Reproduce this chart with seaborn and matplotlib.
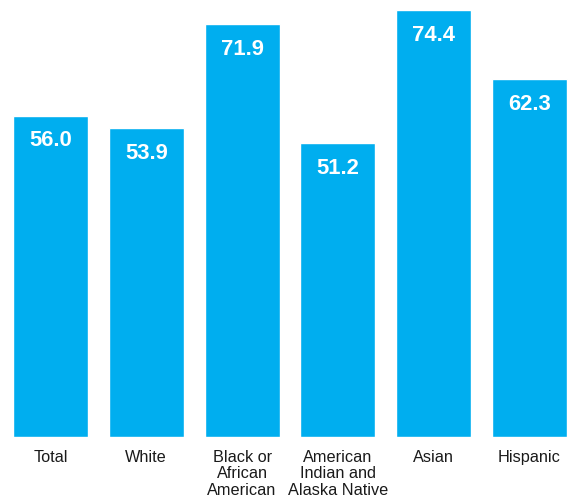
import matplotlib
matplotlib.use("Agg")
import matplotlib.pyplot as plt
import seaborn as sns
import pandas as pd

categories = ["Total", "White", "Black or\nAfrican\nAmerican",
              "American\nIndian and\nAlaska Native", "Asian", "Hispanic"]
values = [56.0, 53.9, 71.9, 51.2, 74.4, 62.3]
value_labels = ["56.0", "53.9", "71.9", "51.2", "74.4", "62.3"]

sns.set_style("white")
plt.rcParams["font.family"] = ["Liberation Sans", "DejaVu Sans"]

df = pd.DataFrame({"cat": categories, "val": values})

fig = plt.figure(figsize=(5.72, 5.04), dpi=100)
ax = fig.add_axes([0, 0.1335, 1, 0.8665])
sns.barplot(data=df, x="cat", y="val", color="#00AEEF", saturation=1,
            width=0.783, ax=ax, errorbar=None)

ax.set_xlim(-0.527, 5.444)
ax.set_ylim(0, 76.15)
ax.set_xlabel("")
ax.set_ylabel("")
ax.set_yticks([])
for s in ax.spines.values():
    s.set_visible(False)
ax.tick_params(axis="x", length=0, pad=9.5, labelsize=11.7, labelcolor="#1a1a1a")
for t in ax.get_xticklabels():
    t.set_linespacing(1.12)

for i, (v, lab) in enumerate(zip(values, value_labels)):
    ax.annotate(lab, xy=(i, v), xytext=(0, -18.3), textcoords="offset points",
                ha="center", va="center", color="white", fontsize=15.8,
                fontweight="bold")

fig.savefig("out.png", dpi=100)
